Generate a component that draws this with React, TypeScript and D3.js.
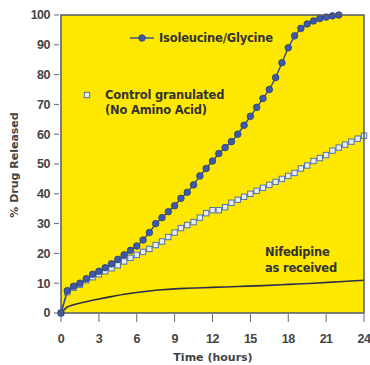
import React from "react";
import * as d3 from "d3";

// time grid (hours) for the marker series
const hoursIso = [0, 0.5, 1, 1.5, 2, 2.5, 3, 3.5, 4, 4.5, 5, 5.5, 6, 6.5, 7, 7.5, 8, 8.5, 9, 9.5, 10, 10.5, 11, 11.5, 12, 12.5, 13, 13.5, 14, 14.5, 15, 15.5, 16, 16.5, 17, 17.5, 18, 18.5, 19, 19.5, 20, 20.5, 21, 21.5, 22];
const isoGly = [0, 7.5, 9, 10, 11.5, 13, 14, 15.2, 16.5, 18, 19.5, 21, 22.5, 24.5, 27, 30, 32, 34, 36, 38.5, 40.5, 43, 46, 48.5, 51, 53.5, 55.5, 57.5, 60, 63, 66, 69, 72, 75, 79, 84, 89, 93, 95.5, 97, 98, 98.8, 99.3, 99.7, 100];

const hoursCtrl = [0, 0.5, 1, 1.5, 2, 2.5, 3, 3.5, 4, 4.5, 5, 5.5, 6, 6.5, 7, 7.5, 8, 8.5, 9, 9.5, 10, 10.5, 11, 11.5, 12, 12.5, 13, 13.5, 14, 14.5, 15, 15.5, 16, 16.5, 17, 17.5, 18, 18.5, 19, 19.5, 20, 20.5, 21, 21.5, 22, 22.5, 23, 23.5, 24];
const control = [0, 7, 8.5, 9.5, 11, 12, 13, 14, 15, 16, 17.3, 18.5, 19.5, 20.5, 21.5, 22.8, 24, 25.5, 27, 28.5, 29.5, 30.5, 32, 33.5, 34.5, 34.5, 35.5, 37, 38, 39, 40, 41, 42, 43, 44, 45, 46, 47, 48.5, 49.5, 51, 52, 53, 54.5, 55.5, 56.5, 57.5, 58.5, 59.5];

const hoursNif = [0, 0.5, 1, 2, 3, 4, 5, 6, 7, 8, 9, 10, 12, 14, 16, 18, 20, 22, 24];
const nifedipine = [0, 2, 2.8, 3.8, 4.7, 5.5, 6.3, 6.9, 7.4, 7.8, 8.1, 8.3, 8.6, 8.9, 9.2, 9.6, 10, 10.5, 11];

const xTicks = [0, 3, 6, 9, 12, 15, 18, 21, 24];
const yTicks = [0, 10, 20, 30, 40, 50, 60, 70, 80, 90, 100];

const App = () => {
  const x = d3.scaleLinear().domain([0, 24]).range([61, 364]);
  const y = d3.scaleLinear().domain([0, 100]).range([313, 15]);

  const isoPts = hoursIso.map((h, i) => [h, isoGly[i]]);
  const ctrlPts = hoursCtrl.map((h, i) => [h, control[i]]);
  const nifPts = hoursNif.map((h, i) => [h, nifedipine[i]]);

  const line = d3.line().x((d) => x(d[0])).y((d) => y(d[1]));
  const smooth = d3.line().x((d) => x(d[0])).y((d) => y(d[1])).curve(d3.curveMonotoneX);

  const font = "Arial, 'Liberation Sans', sans-serif";
  const wide = "'DejaVu Sans', Verdana, sans-serif";

  return (
    <svg width={370} height={365} style={{ position: "absolute", left: 0, top: 0 }} fontFamily={font}>
      <rect x={0} y={0} width={370} height={365} fill="#fff" />
      <rect x={x(0)} y={y(100)} width={x(24) - x(0)} height={y(0) - y(100)} fill="#FFE800" />

      {/* y ticks */}
      <g>
        {yTicks.map((t) => (
          <g key={t}>
            <line x1={x(0) - 7} x2={x(0) - 2} y1={y(t)} y2={y(t)} stroke="#667" strokeWidth={1} />
            <text x={50} y={y(t)} dy="0.35em" textAnchor="end" fontSize={12.5} fontWeight="bold" fill="#444" letterSpacing={-0.5}>{t}</text>
          </g>
        ))}
      </g>
      {/* x ticks */}
      <g>
        {xTicks.map((t) => (
          <g key={t}>
            <line x1={x(t)} x2={x(t)} y1={y(0) + 1} y2={y(0) + 9} stroke="#667" strokeWidth={1} />
            <text x={x(t)} y={343} textAnchor="middle" fontSize={12.5} fontWeight="bold" fill="#444" letterSpacing={-0.5}>{t}</text>
          </g>
        ))}
      </g>

      <text x={213} y={361} textAnchor="middle" fontSize={11} fontFamily={wide} fontWeight="bold" fill="#444">Time (hours)</text>
      <text transform="translate(18,165) rotate(-90)" textAnchor="middle" fontSize={11} fontFamily={wide} fontWeight="bold" fill="#444">% Drug Released</text>

      {/* nifedipine as received */}
      <path d={smooth(nifPts)} fill="none" stroke="#2a2f48" strokeWidth={1.6} />

      {/* control granulated */}
      <path d={line(ctrlPts)} fill="none" stroke="#4f6fa8" strokeWidth={1.2} />
      {ctrlPts.map((d, i) => (
        <rect key={i} x={x(d[0]) - 2.7} y={y(d[1]) - 2.7} width={5.4} height={5.4} fill="#e8ecf4" stroke="#5573a8" strokeWidth={1} />
      ))}

      {/* isoleucine/glycine */}
      <path d={line(isoPts)} fill="none" stroke="#2f4a8a" strokeWidth={1.4} />
      {isoPts.map((d, i) => (
        <circle key={i} cx={x(d[0])} cy={y(d[1])} r={3.3} fill="#3d5aa8" stroke="#2a3f78" strokeWidth={0.8} />
      ))}

      <rect x={x(0)} y={y(100)} width={x(24) - x(0)} height={y(0) - y(100)} fill="none" stroke="#505868" strokeWidth={1.5} />

      {/* legend / annotations */}
      <line x1={130} x2={154} y1={38} y2={38} stroke="#2f4a8a" strokeWidth={1.4} />
      <circle cx={142} cy={38} r={3.3} fill="#3d5aa8" stroke="#2a3f78" strokeWidth={0.8} />
      <text x={159} y={42} fontSize={11.5} fontFamily={wide} fontWeight="bold" fill="#333" letterSpacing={-0.2}>Isoleucine/Glycine</text>

      <rect x={84.3} y={92.3} width={5.4} height={5.4} fill="#e8ecf4" stroke="#5573a8" strokeWidth={1} />
      <text x={105} y={99} fontSize={11.5} fontFamily={wide} fontWeight="bold" fill="#333" letterSpacing={-0.2}>Control granulated</text>
      <text x={105} y={114} fontSize={11.5} fontFamily={wide} fontWeight="bold" fill="#333" letterSpacing={-0.2}>(No Amino Acid)</text>

      <text x={265} y={256} fontSize={11.5} fontFamily={wide} fontWeight="bold" fill="#333" letterSpacing={-0.2}>Nifedipine</text>
      <text x={265} y={272} fontSize={11.5} fontFamily={wide} fontWeight="bold" fill="#333" letterSpacing={-0.2}>as received</text>
    </svg>
  );
};

export default App;
